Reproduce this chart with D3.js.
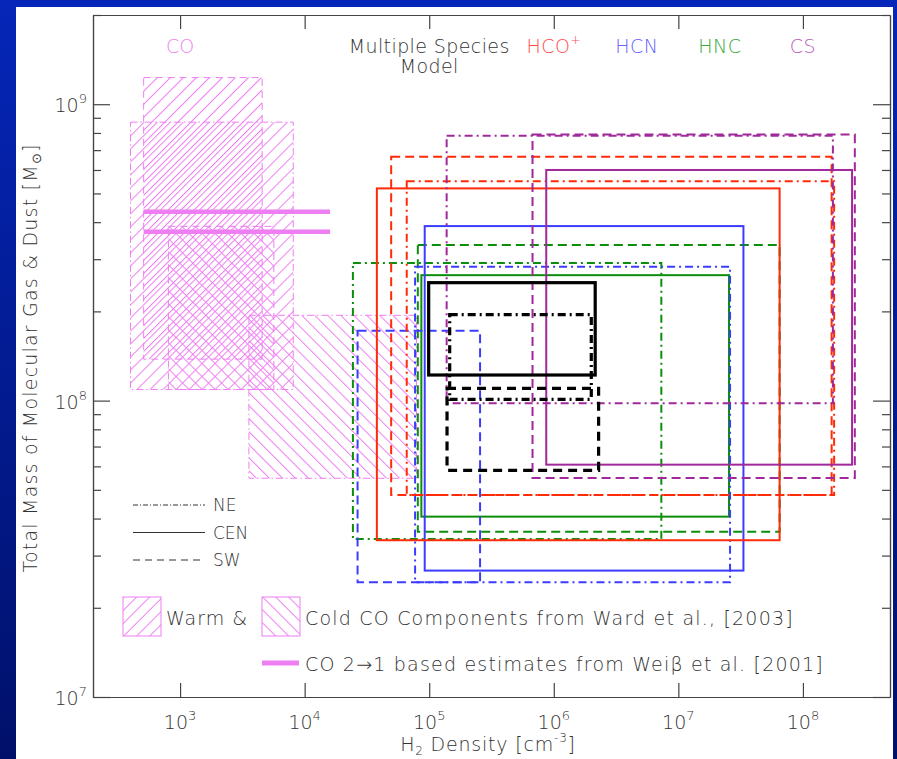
<!DOCTYPE html>
<html>
<head>
<meta charset="utf-8">
<script src="https://cdn.jsdelivr.net/npm/d3@7"></script>
<style>
  body { margin: 0; background: #fff; }
  text { font-family: "DejaVu Sans", sans-serif; font-weight: 200; fill: #333; }
</style>
</head>
<body>
<div id="chart"></div>
<script>
// ---------------------------------------------------
// DATA
// ---------------------------------------------------
var xTickValues = [1e3, 1e4, 1e5, 1e6, 1e7, 1e8];
var xTickExp = ["3", "4", "5", "6", "7", "8"];
var yTickValues = [1e7, 1e8, 1e9];
var yTickExp = ["7", "8", "9"];
var yMinorValues = [2e7, 3e7, 4e7, 5e7, 6e7, 7e7, 8e7, 9e7,
                    2e8, 3e8, 4e8, 5e8, 6e8, 7e8, 8e8, 9e8, 2e9];

var regions = ["NE", "CEN", "SW"];

// boxes: [density min, density max, mass min, mass max], order NE, CEN, SW
var hcoBoxes = [[6.6e4, 1.78e8, 4.8e7, 5.5e8], [3.8e4, 6.5e7, 3.38e7, 5.2e8], [4.95e4, 1.7e8, 4.8e7, 6.65e8]];
var hcnBoxes = [[7.7e4, 2.6e7, 2.44e7, 2.83e8], [9.2e4, 3.33e7, 2.67e7, 3.88e8], [2.66e4, 2.56e5, 2.44e7, 1.72e8]];
var hncBoxes = [[2.44e4, 7.3e6, 3.41e7, 2.91e8], [8.65e4, 2.55e7, 4.06e7, 2.65e8], [8.1e4, 6.5e7, 3.61e7, 3.35e8]];
var csBoxes  = [[1.38e5, 1.74e8, 9.8e7, 7.83e8], [8.7e5, 2.48e8, 6.08e7, 6.0e8], [6.75e5, 2.61e8, 5.48e7, 7.9e8]];
var modelBoxes = [[1.46e5, 2.0e6, 1.01e8, 1.95e8], [9.9e4, 2.15e6, 1.22e8, 2.5e8], [1.39e5, 2.29e6, 5.82e7, 1.1e8]];

// Ward et al. 2003 CO components (NE = dash-dot, SW = dashed)
var warmCO = [[400, 8.1e3, 1.09e8, 8.7e8], [510, 4.56e3, 1.38e8, 1.23e9]];
var coldCO = [[3.57e3, 7.9e4, 5.47e7, 1.94e8], [806, 5.66e3, 1.09e8, 3.87e8]];
var coRegions = ["NE", "SW"];

// Weiss et al. 2001 CO 2-1 estimates
var weissMass = [4.34e8, 3.71e8];
var weissDensity = [510, 1.6e4];

var speciesNames = ["HCO", "HCN", "HNC", "CS"];

// ---------------------------------------------------
// 1. CANVAS
// ---------------------------------------------------
var W = 897, H = 759;
var svg = d3.select("#chart").append("svg").attr("width", W).attr("height", H);
var defs = svg.append("defs");

var bg = defs.append("linearGradient").attr("id", "bg")
    .attr("x1", 0).attr("y1", 0).attr("x2", 0).attr("y2", 1);
bg.append("stop").attr("offset", 0).attr("stop-color", "#0526b8");
bg.append("stop").attr("offset", 1).attr("stop-color", "#00106a");
svg.append("rect").attr("width", W).attr("height", H).attr("fill", "url(#bg)");
svg.append("rect").attr("x", 16).attr("y", 7).attr("width", 877).attr("height", H - 7).attr("fill", "#fff");

// ---------------------------------------------------
// 2. SCALES
// ---------------------------------------------------
var pLeft = 93, pRight = 890, pTop = 15, pBottom = 697;
var x = d3.scaleLog().domain([200, 5e8]).range([pLeft, pRight]);
var y = d3.scaleLog().domain([1e7, 2e9]).range([pBottom, pTop]);

var colors = { HCO: "#ff2a08", HCN: "#3c3cff", HNC: "#0b8f0b", CS: "#a0289a", model: "#000", CO: "#ee7ff2" };
var textColors = { HCO: "#ff4d4d", HCN: "#6464ff", HNC: "#3aa83a", CS: "#bd5cbd", CO: "#ee85f0" };
var dash = { NE: "8,4,2,4", CEN: null, SW: "9,5" };
var thinDash = { NE: "7,3,1.5,3", SW: "7,5" };

// ---------------------------------------------------
// 3. CO HATCHED BOXES
// ---------------------------------------------------
var hatchCount = 0;
function hatch(x0, y0, angle) {
    var id = "hatch" + (hatchCount++);
    var p = defs.append("pattern").attr("id", id)
        .attr("patternUnits", "userSpaceOnUse")
        .attr("width", 9.2).attr("height", 9.2)
        .attr("patternTransform", "translate(" + x0 + "," + y0 + ") rotate(" + angle + ")");
    p.append("line").attr("x1", 0.5).attr("y1", 0).attr("x2", 0.5).attr("y2", 9.2)
        .attr("stroke", colors.CO).attr("stroke-width", 1);
    return "url(#" + id + ")";
}

function coBoxes(g, boxes, angle) {
    boxes.forEach(function (b, i) {
        g.append("rect")
            .attr("x", x(b[0])).attr("y", y(b[3]))
            .attr("width", x(b[1]) - x(b[0])).attr("height", y(b[2]) - y(b[3]))
            .attr("fill", hatch(x(b[0]), y(b[3]), angle))
            .attr("stroke", colors.CO).attr("stroke-width", 1)
            .attr("stroke-dasharray", thinDash[coRegions[i]]);
    });
}
var gCO = svg.append("g");
coBoxes(gCO, warmCO, 45);
coBoxes(gCO, coldCO, -45);

gCO.selectAll("line.weiss").data(weissMass).join("line")
    .attr("class", "weiss")
    .attr("x1", x(weissDensity[0])).attr("x2", x(weissDensity[1]))
    .attr("y1", d => y(d)).attr("y2", d => y(d))
    .attr("stroke", colors.CO).attr("stroke-width", 4.5);

// ---------------------------------------------------
// 4. SPECIES BOXES
// ---------------------------------------------------
function drawBoxes(boxes, color, width, dashes) {
    svg.append("g").selectAll("rect").data(boxes).join("rect")
        .attr("x", d => x(d[0])).attr("y", d => y(d[3]))
        .attr("width", d => x(d[1]) - x(d[0]))
        .attr("height", d => y(d[2]) - y(d[3]))
        .attr("fill", "none")
        .attr("stroke", color).attr("stroke-width", width)
        .attr("stroke-dasharray", (d, i) => dashes[regions[i]]);
}
drawBoxes(hncBoxes, colors.HNC, 2, dash);
drawBoxes(hcnBoxes, colors.HCN, 2, dash);
drawBoxes(hcoBoxes, colors.HCO, 2, dash);
drawBoxes(csBoxes, colors.CS, 2, dash);
drawBoxes(modelBoxes, colors.model, 3.2, { NE: "8,4,2,4", CEN: null, SW: "9,6" });

// ---------------------------------------------------
// 5. AXES
// ---------------------------------------------------
function styleAxis(g) {
    g.attr("color", "#444").selectAll("path,line").attr("stroke-width", 1.2);
}
svg.append("g").attr("transform", "translate(0," + pBottom + ")")
    .call(d3.axisBottom(x).tickValues(xTickValues).tickSize(-14).tickSizeOuter(0).tickFormat(""))
    .call(styleAxis);
svg.append("g").attr("transform", "translate(0," + pTop + ")")
    .call(d3.axisTop(x).tickValues(xTickValues).tickSize(-14).tickSizeOuter(0).tickFormat(""))
    .call(styleAxis);
svg.append("g").attr("transform", "translate(" + pLeft + ",0)")
    .call(d3.axisLeft(y).tickValues(yTickValues).tickSize(-17).tickSizeOuter(0).tickFormat(""))
    .call(styleAxis);
svg.append("g").attr("transform", "translate(" + pLeft + ",0)")
    .call(d3.axisLeft(y).tickValues(yMinorValues).tickSize(-8).tickSizeOuter(0).tickFormat(""))
    .call(styleAxis);
svg.append("g").attr("transform", "translate(" + pRight + ",0)")
    .call(d3.axisRight(y).tickValues(yTickValues).tickSize(-17).tickSizeOuter(0).tickFormat(""))
    .call(styleAxis);
svg.append("g").attr("transform", "translate(" + pRight + ",0)")
    .call(d3.axisRight(y).tickValues(yMinorValues).tickSize(-8).tickSizeOuter(0).tickFormat(""))
    .call(styleAxis);

// tick labels as 10^n
var xl = svg.append("g").selectAll("text").data(xTickValues).join("text")
    .attr("x", d => x(d)).attr("y", 729)
    .attr("text-anchor", "middle").attr("font-size", 19)
    .text("10");
xl.append("tspan").attr("dy", -9).attr("font-size", 13).text((d, i) => xTickExp[i]);

var yl = svg.append("g").selectAll("text").data(yTickValues).join("text")
    .attr("x", 87).attr("y", d => y(d) + 8)
    .attr("text-anchor", "end").attr("font-size", 19)
    .text("10");
yl.append("tspan").attr("dy", -9).attr("font-size", 13).text((d, i) => yTickExp[i]);

// axis titles
var xt = svg.append("text").attr("x", 488).attr("y", 751)
    .attr("text-anchor", "middle").attr("font-size", 19).attr("letter-spacing", 0.8);
xt.append("tspan").text("H");
xt.append("tspan").attr("dy", 4).attr("font-size", 12).text("2");
xt.append("tspan").attr("dy", -4).text(" Density [cm");
xt.append("tspan").attr("dy", -9).attr("font-size", 12).text("-3");
xt.append("tspan").attr("dy", 9).text("]");

var yt = svg.append("text")
    .attr("transform", "translate(37,358) rotate(-90)")
    .attr("text-anchor", "middle").attr("font-size", 19).attr("letter-spacing", 1.2);
yt.append("tspan").text("Total Mass of Molecular Gas & Dust [M");
yt.append("tspan").attr("dy", 4).attr("font-size", 13).text("\u2299");
yt.append("tspan").attr("dy", -4).text("]");

// ---------------------------------------------------
// 6. SPECIES LABELS
// ---------------------------------------------------
svg.append("text").attr("x", x(1e3)).attr("y", 53).attr("text-anchor", "middle")
    .attr("font-size", 19).style("fill", textColors.CO).text("CO");
svg.append("text").attr("x", x(1e5)).attr("y", 53).attr("text-anchor", "middle")
    .attr("font-size", 19).attr("letter-spacing", 0.4).text("Multiple Species");
svg.append("text").attr("x", x(1e5)).attr("y", 73).attr("text-anchor", "middle")
    .attr("font-size", 19).attr("letter-spacing", 0.4).text("Model");

var labelPos = [1e6, Math.pow(10, 6 + 2 / 3), Math.pow(10, 7 + 1 / 3), 1e8];
var sl = svg.append("g").selectAll("text").data(speciesNames).join("text")
    .attr("x", (d, i) => x(labelPos[i])).attr("y", 53)
    .attr("text-anchor", "middle").attr("font-size", 19).attr("letter-spacing", 0.5)
    .style("fill", d => textColors[d])
    .text(d => d);
sl.filter(d => d == "HCO").append("tspan").attr("dy", -9).attr("font-size", 12).text("+");

// ---------------------------------------------------
// 7. LEGENDS
// ---------------------------------------------------
var regionDash = { NE: "5,2,1,2", CEN: null, SW: "7,5" };
var lg = svg.append("g").selectAll("g").data(regions).join("g")
    .attr("transform", (d, i) => "translate(133," + (505 + i * 27.5) + ")");
lg.append("line").attr("x1", 0).attr("x2", 72)
    .attr("stroke", "#333").attr("stroke-width", 1)
    .attr("stroke-dasharray", d => regionDash[d]);
lg.append("text").attr("x", 80).attr("y", 6).attr("font-size", 17).text(d => d);

// hatched swatches
[[123, 45], [262, -45]].forEach(function (s) {
    svg.append("rect").attr("x", s[0]).attr("y", 597).attr("width", 38).attr("height", 39)
        .attr("fill", hatch(s[0], 597, s[1]))
        .attr("stroke", colors.CO).attr("stroke-width", 1);
});
svg.append("text").attr("x", 166).attr("y", 625).attr("font-size", 19).attr("letter-spacing", 1)
    .text("Warm &");
svg.append("text").attr("x", 305).attr("y", 625).attr("font-size", 19).attr("letter-spacing", 1.2)
    .text("Cold CO Components from Ward et al., [2003]");

svg.append("line").attr("x1", 262).attr("x2", 299).attr("y1", 663).attr("y2", 663)
    .attr("stroke", colors.CO).attr("stroke-width", 5);
svg.append("text").attr("x", 305).attr("y", 671).attr("font-size", 19).attr("letter-spacing", 1.2)
    .text("CO 2\u21921 based estimates from Wei\u03b2 et al. [2001]");
</script>
</body>
</html>
